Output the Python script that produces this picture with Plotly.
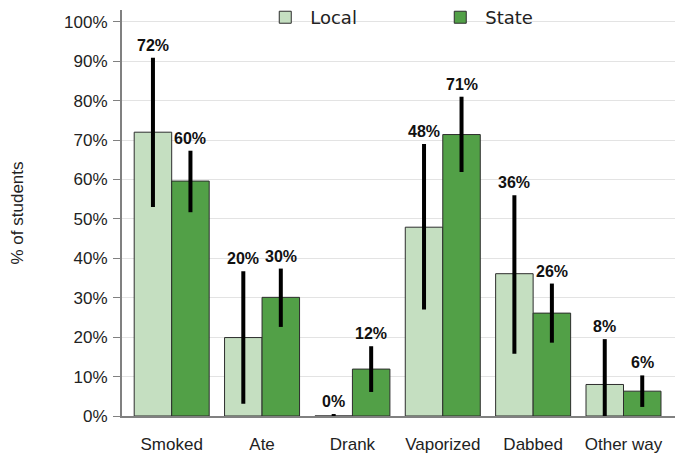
import plotly.graph_objects as go

# categories and values (percent of students)
categories = ["Smoked", "Ate", "Drank", "Vaporized", "Dabbed", "Other way"]

local_vals = [72.0, 19.9, 0.0, 47.9, 36.1, 8.0]
local_hi = [90.9, 36.7, 0.5, 69.0, 56.0, 19.5]
local_lo = [53.0, 3.1, 0.0, 27.0, 15.8, 0.0]
local_labels = ["72%", "20%", "0%", "48%", "36%", "8%"]

state_vals = [59.6, 30.1, 11.9, 71.4, 26.1, 6.3]
state_hi = [67.3, 37.4, 17.7, 81.0, 33.6, 10.3]
state_lo = [51.7, 22.6, 6.1, 61.9, 18.6, 2.3]
state_labels = ["60%", "30%", "12%", "71%", "26%", "6%"]

LOCAL_COLOR = "#c5dfc1"
STATE_COLOR = "#52a047"
BARGAP = 0.17

fig = go.Figure()


def add_series(name, vals, hi, lo, color):
    fig.add_trace(go.Bar(
        x=categories,
        y=vals,
        name=name,
        marker=dict(color=color, line=dict(color="#2d2d2d", width=1)),
        error_y=dict(
            type="data",
            symmetric=False,
            array=[h - v for h, v in zip(hi, vals)],
            arrayminus=[v - l for v, l in zip(vals, lo)],
            color="black",
            thickness=4,
            width=0,
        ),
        hoverinfo="x+y",
    ))


add_series("Local", local_vals, local_hi, local_lo, LOCAL_COLOR)
add_series("State", state_vals, state_hi, state_lo, STATE_COLOR)

# value labels sitting just above each error bar
offset = (1 - BARGAP) / 4
annotations = []
for i in range(len(categories)):
    for side, hi, vals, labels in ((-1, local_hi, local_vals, local_labels),
                                   (1, state_hi, state_vals, state_labels)):
        annotations.append(dict(
            x=i + side * offset,
            y=max(hi[i], vals[i]),
            xref="x", yref="y",
            text=labels[i],
            showarrow=False,
            yanchor="bottom",
            yshift=2,
            font=dict(family="Arial", size=16, color="#111111", weight="bold"),
        ))

# the page body keeps an 8px margin, so margins are shifted to compensate
fig.update_layout(
    width=684,
    height=459,
    barmode="group",
    bargap=BARGAP,
    bargroupgap=0,
    plot_bgcolor="white",
    paper_bgcolor="white",
    margin=dict(l=114, r=17, t=2, b=51, autoexpand=False),
    font=dict(family="Arial", size=17, color="#222222"),
    showlegend=True,
    legend=dict(
        orientation="h",
        x=0.25, xanchor="left",
        y=1.027, yanchor="top",
        bgcolor="rgba(0,0,0,0)",
        font=dict(family="DejaVu Sans", size=18, color="#222222"),
        entrywidth=120,
        itemwidth=40,
        traceorder="normal",
    ),
    annotations=annotations,
)

fig.update_xaxes(
    range=[-0.55, 5.57],
    showline=True,
    linecolor="#808080",
    linewidth=2,
    ticks="",
    ticklabelstandoff=12,
    tickfont=dict(size=17, color="#222222"),
    showgrid=False,
    automargin=False,
)

fig.update_yaxes(
    range=[0, 103],
    tickvals=[0, 10, 20, 30, 40, 50, 60, 70, 80, 90, 100],
    ticktext=["0%", "10%", "20%", "30%", "40%", "50%", "60%", "70%", "80%", "90%", "100%"],
    showline=True,
    linecolor="#808080",
    linewidth=2,
    ticks="outside",
    ticklen=7,
    tickcolor="#808080",
    ticklabelstandoff=2,
    showgrid=True,
    gridcolor="#e3e3e3",
    gridwidth=1,
    zeroline=False,
    automargin=False,
    tickfont=dict(size=17, color="#222222"),
    title=dict(text="% of students", font=dict(size=17, color="#222222"), standoff=40),
)

fig.write_html("out.html")
